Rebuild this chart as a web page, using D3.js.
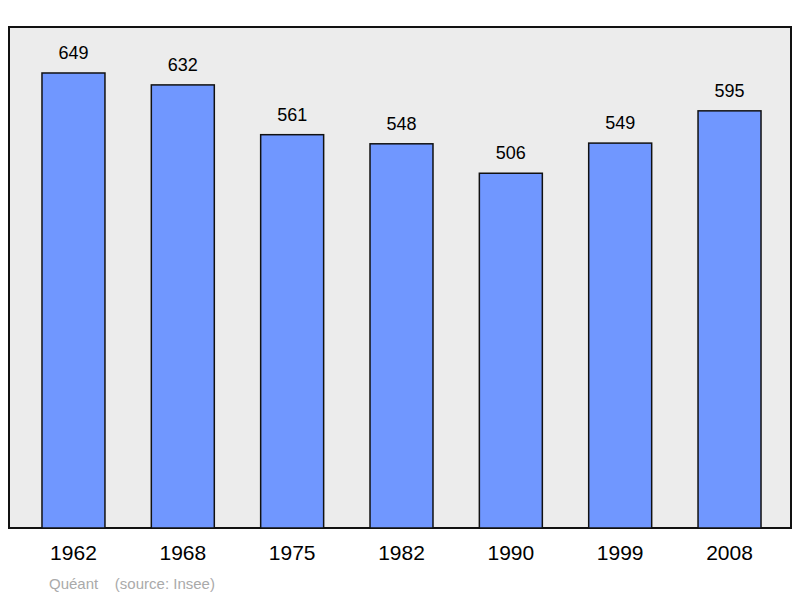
<!DOCTYPE html>
<html><head><meta charset="utf-8">
<script src="https://cdn.jsdelivr.net/npm/d3@7"></script>
<style>body{margin:0;background:#fff}</style>
</head><body>
<svg id="c" width="800" height="598"></svg>
<script>
const years = ['1962', '1968', '1975', '1982', '1990', '1999', '2008'];
const population = [649, 632, 561, 548, 506, 549, 595];

const svg = d3.select('#c');
const plotLeft = 9, plotRight = 791, plotTop = 27, plotBottom = 528;

svg.append('rect')
  .attr('x', plotLeft).attr('y', plotTop)
  .attr('width', plotRight - plotLeft).attr('height', plotBottom - plotTop)
  .attr('fill', '#ececec').attr('stroke', '#111').attr('stroke-width', 2);

const x = d3.scaleBand().domain(years).range([18.8, 784.2])
  .paddingInner(0.424).paddingOuter(0.212);
const y = d3.scaleLinear().domain([0, 714.6]).range([plotBottom, plotTop]);

svg.selectAll('rect.bar').data(population).join('rect')
  .attr('class', 'bar')
  .attr('x', (d, i) => x(years[i]))
  .attr('y', d => y(d))
  .attr('width', x.bandwidth())
  .attr('height', d => plotBottom - y(d))
  .attr('fill', '#7097ff').attr('stroke', '#111').attr('stroke-width', 1.5);

svg.selectAll('text.val').data(population).join('text')
  .attr('class', 'val')
  .attr('x', (d, i) => x(years[i]) + x.bandwidth() / 2)
  .attr('y', d => y(d) - 14)
  .attr('text-anchor', 'middle')
  .style('font', '18px "Liberation Sans", Arial, sans-serif')
  .text(d => d);

const axis = svg.append('g').attr('transform', `translate(0,${plotBottom})`)
  .call(d3.axisBottom(x).tickSize(0).tickPadding(17));
axis.select('.domain').remove();
axis.selectAll('text')
  .style('font', '21px "Liberation Sans", Arial, sans-serif').attr('fill', '#000');

svg.append('text').attr('x', 49).attr('y', 589)
  .style('font', '15px "Liberation Sans", Arial, sans-serif').attr('fill', '#aaa')
  .attr('xml:space', 'preserve')
  .text('Quéant    (source: Insee)');
</script>
</body></html>
